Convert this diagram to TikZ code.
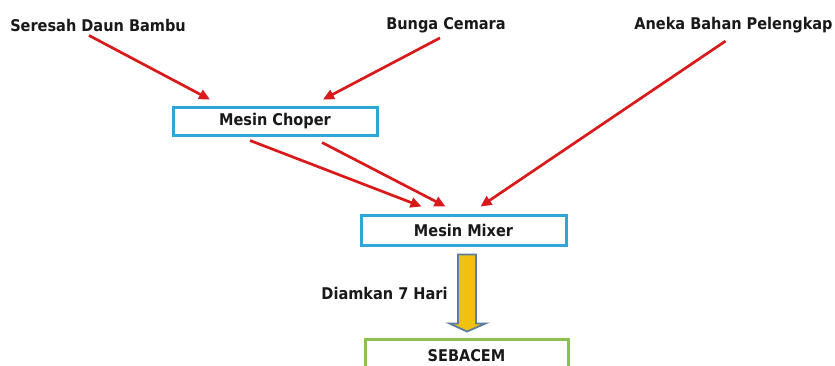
\documentclass[tikz,border=0pt]{standalone}
\usepackage{fontspec}
\setmainfont{DejaVu Sans Condensed}
\usetikzlibrary{arrows.meta,calc}
\definecolor{arrred}{HTML}{D91A1A}
\definecolor{boxblue}{HTML}{2EA7D6}
\definecolor{boxgreen}{HTML}{8CC152}
\definecolor{blockfill}{HTML}{F2C00F}
\definecolor{blockedge}{HTML}{5A7EA0}
\begin{document}
\begin{tikzpicture}[x=1bp,y=-1bp,
 lbl/.style={font=\bfseries\fontsize{16.2}{19}\selectfont, text=black!90, inner sep=0},
 rarrow/.style={draw=arrred, line width=2.7bp, -{Triangle[length=11bp,width=10bp]}},
 box/.style={draw=boxblue, line width=3bp, minimum width=204bp, minimum height=28bp, inner sep=0, fill=white, font=\bfseries\fontsize{16.2}{19}\selectfont, text=black!90}]
\useasboundingbox (0,0) rectangle (835,365);
\clip (0,0) rectangle (835,365);
\node[lbl] (ser) at (98,25) {Seresah Daun Bambu};
\node[lbl] (bun) at (446,25) {Bunga Cemara};
\node[lbl] (ane) at (733.5,25) {Aneka Bahan Pelengkap};
\node[box] (chop) at (275,121) {Mesin Choper};
\node[box, minimum width=205bp, minimum height=30bp] (mix) at (463.5,230) {Mesin Mixer};
\node[box, draw=boxgreen, minimum width=203bp, minimum height=34bp] (seb) at (466.5,356) {SEBACEM};
\node[lbl] (diam) at (384.5,293) {Diamkan 7 Hari};
% red arrows
\draw[rarrow] ($(ser.south)+(-9,4)$) -- ($(chop.north)+(-65,-6)$);
\draw[rarrow] ($(bun.south)+(-6,5)$) -- ($(chop.north)+(48,-6)$);
\draw[rarrow] ($(ane.south)+(-8,8)$) -- ($(mix.north)+(17,-7)$);
\draw[rarrow] ($(chop.south)+(-25,4)$) -- ($(mix.north)+(-42,-7)$);
\draw[rarrow] ($(chop.south)+(47,6)$) -- ($(mix.north)+(-18,-7)$);
% block arrow
\draw[draw=blockedge, fill=blockfill, line width=1.8bp, line join=miter]
  ($(mix.south)+(-5.5,8)$) -- ($(mix.south)+(12.5,8)$) -- ($(mix.south)+(12.5,77)$)
  -- ($(mix.south)+(22,77)$) -- ($(seb.north)+(0.5,-6)$) -- ($(mix.south)+(-14,77)$)
  -- ($(mix.south)+(-5.5,77)$) -- cycle;
\end{tikzpicture}
\end{document}
